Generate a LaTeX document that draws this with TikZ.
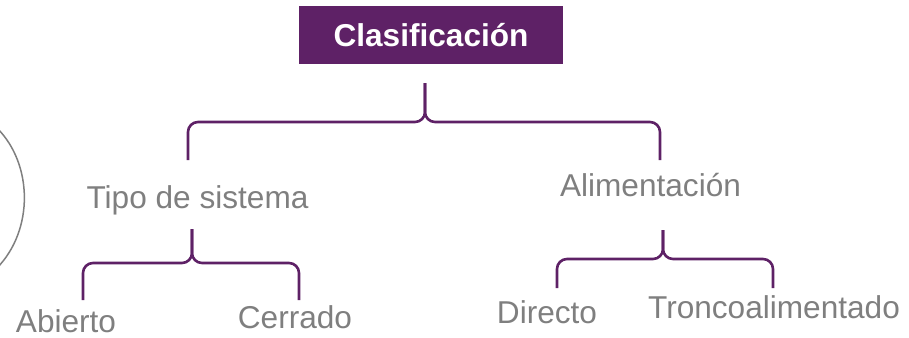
\documentclass[tikz,border=0pt]{standalone}
\usepackage{fontspec}
\setmainfont{Liberation Sans}
\definecolor{morado}{HTML}{5E2166}
\definecolor{gris}{HTML}{7F7F7F}

\begin{document}
\begin{tikzpicture}[x=1pt,y=-1pt,
    rama/.style={draw=morado,line width=2.6pt,rounded corners=10pt},
    etiqueta/.style={text=gris,font=\fontsize{31.6}{36}\selectfont,inner sep=0pt,anchor=base},
    raiz/.style={fill=morado,text=white,font=\fontsize{31.6}{36}\selectfont\bfseries,
      minimum width=264pt,minimum height=58pt,text height=22.6pt,text depth=0pt,inner sep=0pt}]
  \useasboundingbox (0,0) rectangle (909,337);
  % nodos
  \node[raiz] (clas) at (431,35) {Clasificación};
  \node[etiqueta] (tipo) at (197.5,208) {Tipo de sistema};
  \node[etiqueta] (alim) at (650.5,196) {Alimentación};
  \node[etiqueta] (abie) at (66,332) {Abierto};
  \node[etiqueta] (cerr) at (295,328) {Cerrado};
  \node[etiqueta] (dire) at (547,323) {Directo};
  \node[etiqueta] (tron) at (774,318) {Troncoalimentado};
  % llaves
  \coordinate (T0) at (425,83);  \coordinate (H0) at (425,122);
  \coordinate (L0) at (188,160); \coordinate (R0) at (660,160);
  \coordinate (T1) at (192,229); \coordinate (H1) at (192,263);
  \coordinate (L1) at (83,300);  \coordinate (R1) at (299,300);
  \coordinate (T2) at (663,230); \coordinate (H2) at (663,259);
  \coordinate (L2) at (557,288); \coordinate (R2) at (773,288);
  \foreach \n in {0,1,2}{
    \draw[rama] (L\n) |- (H\n) -- (T\n);
    \draw[rama] (R\n) |- (H\n) -- (T\n);
  }
  % arco gris
  \draw[gris,line width=1.5pt] (-3,128) .. controls (33,164) and (34,230) .. (-3,268);
\end{tikzpicture}
\end{document}
